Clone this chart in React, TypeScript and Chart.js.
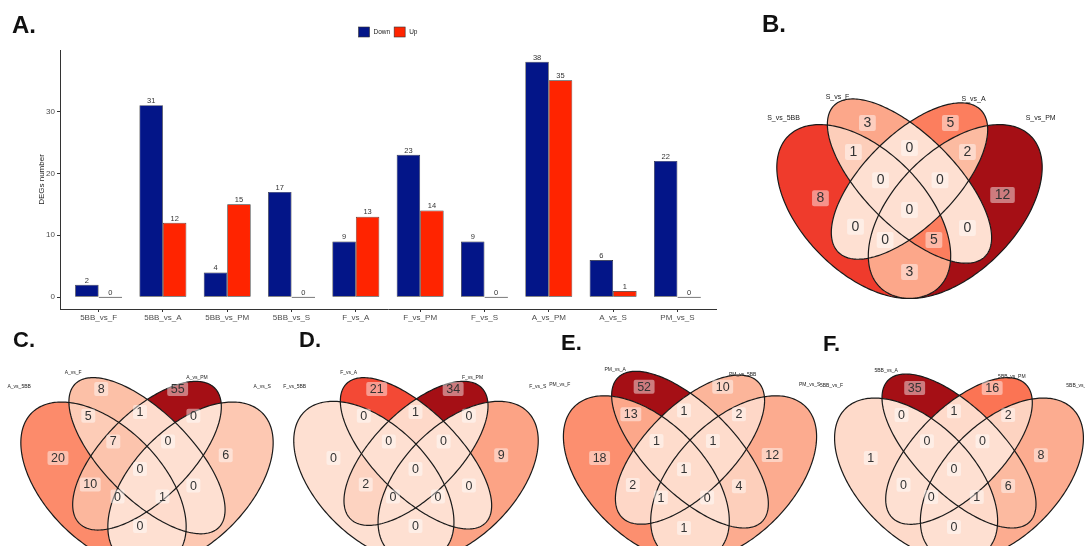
import React, { useEffect, useRef } from "react";
import { Chart, registerables } from "chart.js";

Chart.register(...registerables);

const FONT = "'Liberation Sans', Arial, Helvetica, sans-serif";
Chart.defaults.font.family = FONT;

// ---------- Panel A: number of DEGs per comparison ----------
const comparisons = [
  "5BB_vs_F", "5BB_vs_A", "5BB_vs_PM", "5BB_vs_S", "F_vs_A",
  "F_vs_PM", "F_vs_S", "A_vs_PM", "A_vs_S", "PM_vs_S",
];
const downCounts = [2, 31, 4, 17, 9, 23, 9, 38, 6, 22];
const upCounts = [0, 12, 15, 0, 13, 14, 0, 35, 1, 0];
const seriesNames = ["Down", "Up"];
const yTickValues = [0, 10, 20, 30];
const yTitle = "DEGs number";

// ---------- Panels B-F: four-set Venn diagrams ----------
// Region counts follow REGION_MASKS order (bit0 = first set ... bit3 = fourth set).
const setsB = ["S_vs_5BB", "S_vs_F", "S_vs_A", "S_vs_PM"];
const regionsB = [8, 3, 5, 12, 1, 0, 2, 0, 0, 0, 0, 0, 0, 5, 3];

const setsC = ["A_vs_5BB", "A_vs_F", "A_vs_PM", "A_vs_S"];
const regionsC = [20, 8, 55, 6, 5, 1, 0, 7, 0, 0, 10, 0, 0, 1, 0];

const setsD = ["F_vs_5BB", "F_vs_A", "F_vs_PM", "F_vs_S"];
const regionsD = [0, 21, 34, 9, 0, 1, 0, 0, 0, 0, 2, 0, 0, 0, 0];

const setsE = ["PM_vs_F", "PM_vs_A", "PM_vs_5BB", "PM_vs_S"];
const regionsE = [18, 52, 10, 12, 13, 1, 2, 1, 1, 1, 2, 4, 1, 0, 1];

const setsF = ["5BB_vs_F", "5BB_vs_A", "5BB_vs_PM", "5BB_vs_S"];
const regionsF = [1, 35, 16, 8, 0, 1, 2, 0, 0, 0, 0, 6, 0, 1, 0];

// Venn geometry in unit coordinates: [x0, y0, semi-major, semi-minor, angle deg]
const ELLIPSES = [
  [0.35, 0.47, 0.35, 0.2, 135],
  [0.5, 0.57, 0.35, 0.15, 135],
  [0.5, 0.57, 0.33, 0.15, 45],
  [0.65, 0.47, 0.35, 0.2, 45],
];
const REGION_MASKS = [
  0b0001, 0b0010, 0b0100, 0b1000,
  0b0011, 0b0110, 0b1100,
  0b0111, 0b1110, 0b1111,
  0b0101, 0b1010, 0b1101, 0b1011, 0b1001,
];
const REGION_ANCHORS = [
  [0.208, 0.514], [0.362, 0.76], [0.634, 0.76], [0.805, 0.524],
  [0.316, 0.665], [0.5, 0.678], [0.69, 0.665],
  [0.405, 0.573], [0.6, 0.573], [0.5, 0.475],
  [0.323, 0.42], [0.69, 0.416], [0.42, 0.377], [0.58, 0.377], [0.5, 0.272],
];
const SET_ANCHORS_TOP = [[0.087, 0.777], [0.264, 0.846], [0.71, 0.839], [0.93, 0.777]];
const SET_ANCHORS_BOTTOM = [[0.07, 0.769], [0.262, 0.819], [0.703, 0.801], [0.935, 0.769]];

const NAVY = "#031588";
const RED = "#FF2400";
const REDS = ["#FEE0D2", "#FCBBA1", "#FC9272", "#FB6A4A", "#EF3B2C", "#CB181D", "#A50F15"];

function hexToRgb(h: string) {
  const n = parseInt(h.slice(1), 16);
  return [(n >> 16) & 255, (n >> 8) & 255, n & 255];
}
function redScale(t: number) {
  const c = Math.max(0, Math.min(1, t));
  const p = c * (REDS.length - 1);
  const i = Math.min(Math.floor(p), REDS.length - 2);
  const f = p - i;
  const a = hexToRgb(REDS[i]);
  const b = hexToRgb(REDS[i + 1]);
  const m = a.map((v, k) => Math.round(v + (b[k] - v) * f));
  return `rgb(${m[0]},${m[1]},${m[2]})`;
}

// ---------- bar chart plugins ----------
const barValueLabels = {
  id: "barValueLabels",
  afterDatasetsDraw(chart: any) {
    const { ctx } = chart;
    ctx.save();
    ctx.font = `7.5px ${FONT}`;
    ctx.fillStyle = "#333333";
    ctx.textAlign = "center";
    ctx.textBaseline = "bottom";
    chart.data.datasets.forEach((ds: any, di: number) => {
      const meta = chart.getDatasetMeta(di);
      meta.data.forEach((el: any, i: number) => {
        const v = ds.data[i].y;
        const top = Math.min(el.y, el.base);
        ctx.fillText(String(v), el.x, top - 0.5);
      });
    });
    ctx.restore();
  },
};

const topLegend = {
  id: "topLegend",
  afterDraw(chart: any) {
    const { ctx, chartArea } = chart;
    const colors = [NAVY, RED];
    ctx.save();
    ctx.font = `6.5px ${FONT}`;
    const box = 11;
    const gap = 4;
    const widths = seriesNames.map((s) => ctx.measureText(s).width);
    const total = widths.reduce((a, w) => a + box + gap + w, 0) + gap;
    let x = (chartArea.left + chartArea.right) / 2 - total / 2;
    const cy = 32;
    seriesNames.forEach((name, i) => {
      ctx.fillStyle = colors[i];
      ctx.fillRect(x, cy - 5, box, 10);
      ctx.strokeStyle = "#333333";
      ctx.lineWidth = 0.6;
      ctx.strokeRect(x, cy - 5, box, 10);
      ctx.fillStyle = "#222222";
      ctx.textBaseline = "middle";
      ctx.textAlign = "left";
      ctx.fillText(name, x + box + gap, cy);
      x += box + gap + widths[i] + gap;
    });
    ctx.restore();
  },
};

function BarPanel() {
  const ref = useRef<HTMLCanvasElement>(null);
  useEffect(() => {
    const maxVal = Math.max(...downCounts, ...upCounts);
    const zeroAware = (color: string) => (c: any) =>
      c.parsed && c.parsed.y === 0 ? "#333333" : color;
    const chart = new Chart(ref.current as HTMLCanvasElement, {
      type: "bar",
      data: {
        datasets: [
          {
            label: seriesNames[0],
            data: downCounts.map((v, i) => ({ x: i + 1, y: v })),
            backgroundColor: zeroAware(NAVY),
            borderColor: "#2a2a2a",
            borderWidth: 0.7,
            borderSkipped: false,
            minBarLength: 1,
            categoryPercentage: 0.73,
            barPercentage: 1,
          },
          {
            label: seriesNames[1],
            data: upCounts.map((v, i) => ({ x: i + 1, y: v })),
            backgroundColor: zeroAware(RED),
            borderColor: "#2a2a2a",
            borderWidth: 0.7,
            borderSkipped: false,
            minBarLength: 1,
            categoryPercentage: 0.73,
            barPercentage: 1,
          },
        ],
      } as any,
      options: {
        responsive: false,
        animation: false,
        events: [],
        layout: { padding: { top: 50, right: 14, left: 0, bottom: 0 } },
        plugins: { legend: { display: false }, tooltip: { enabled: false } },
        scales: {
          x: {
            type: "linear",
            offset: false,
            min: 0.4,
            max: comparisons.length + 0.6,
            afterBuildTicks: (s: any) => {
              s.ticks = comparisons.map((_, i) => ({ value: i + 1 }));
            },
            afterFit: (s: any) => {
              s.height = 21;
            },
            ticks: {
              autoSkip: false,
              maxRotation: 0,
              padding: 1,
              color: "#4d4d4d",
              font: { size: 8 },
              callback: (v: any) => comparisons[Math.round(v) - 1] ?? "",
            },
            grid: {
              display: true,
              offset: false,
              drawOnChartArea: false,
              drawTicks: true,
              tickLength: 3,
              color: "#333333",
              tickColor: "#333333",
            },
            border: { display: true, color: "#333333", width: 1 },
          },
          y: {
            type: "linear",
            min: -maxVal * 0.05,
            max: maxVal * 1.05,
            afterBuildTicks: (s: any) => {
              s.ticks = yTickValues.map((v) => ({ value: v }));
            },
            afterFit: (s: any) => {
              s.width = 60;
            },
            ticks: { padding: 2, color: "#4d4d4d", font: { size: 8 } },
            grid: {
              display: true,
              drawOnChartArea: false,
              drawTicks: true,
              tickLength: 3,
              color: "#333333",
              tickColor: "#333333",
            },
            border: { display: true, color: "#333333", width: 1 },
            title: {
              display: true,
              text: yTitle,
              color: "#222222",
              font: { size: 8 },
              padding: { top: 37, bottom: 0 },
            },
          },
        },
      } as any,
      plugins: [barValueLabels, topLegend],
    });
    return () => chart.destroy();
  }, []);
  return (
    <canvas
      ref={ref}
      width={730}
      height={330}
      style={{ position: "absolute", left: 0, top: 0, width: 730, height: 330 }}
    />
  );
}

// shape: pixel frame of the ellipses (centre of unit square + px per unit);
// text: pixel frame used for the region counts and set names.
type Frame = { cx: number; cy: number; s: number };
type VennProps = {
  sets: string[];
  counts: number[];
  left: number;
  top: number;
  width: number;
  height: number;
  shape: Frame;
  text: Frame;
  labelFont: number;
  boxPadX: number;
  boxH: number;
  setFont: number;
  setAnchors: number[][];
};

function ellipsePath(e: number[], xs: any, ys: any) {
  const [x0, y0, a, b, deg] = e;
  const th = (deg * Math.PI) / 180;
  const p = new Path2D();
  const n = 240;
  for (let k = 0; k <= n; k++) {
    const t = (k / n) * Math.PI * 2;
    const x = x0 + a * Math.cos(t) * Math.cos(th) - b * Math.sin(t) * Math.sin(th);
    const y = y0 + a * Math.cos(t) * Math.sin(th) + b * Math.sin(t) * Math.cos(th);
    const px = xs.getPixelForValue(x);
    const py = ys.getPixelForValue(y);
    if (k === 0) p.moveTo(px, py);
    else p.lineTo(px, py);
  }
  p.closePath();
  return p;
}

// converts an anchor given in the text frame to the shape frame's unit coordinates
function toShapeUnits(v: VennProps, ax: number, ay: number) {
  const px = v.text.cx + (ax - 0.5) * v.text.s;
  const py = v.text.cy - (ay - 0.5) * v.text.s;
  return {
    x: 0.5 + (px - v.shape.cx) / v.shape.s,
    y: 0.5 - (py - v.shape.cy) / v.shape.s,
  };
}

function makeVennPlugin(v: VennProps) {
  return {
    id: "vennRegions",
    beforeDatasetsDraw(chart: any) {
      const { ctx, chartArea: area, scales } = chart;
      const paths = ELLIPSES.map((e) => ellipsePath(e, scales.x, scales.y));
      const maxCount = Math.max(...v.counts, 1);
      const w = area.right - area.left;
      const h = area.bottom - area.top;
      REGION_MASKS.forEach((mask, r) => {
        ctx.save();
        paths.forEach((p, i) => {
          if (mask & (1 << i)) {
            ctx.clip(p);
          } else {
            const outside = new Path2D();
            outside.rect(area.left - 5, area.top - 5, w + 10, h + 10);
            outside.addPath(p);
            ctx.clip(outside, "evenodd");
          }
        });
        ctx.fillStyle = redScale(v.counts[r] / maxCount);
        ctx.fillRect(area.left - 5, area.top - 5, w + 10, h + 10);
        ctx.restore();
      });
      ctx.save();
      ctx.strokeStyle = "#1a1a1a";
      ctx.lineWidth = 1.2;
      paths.forEach((p) => ctx.stroke(p));
      ctx.restore();
    },
    afterDatasetsDraw(chart: any) {
      const { ctx, scales } = chart;
      const meta = chart.getDatasetMeta(0);
      ctx.save();
      ctx.font = `${v.labelFont}px ${FONT}`;
      ctx.textAlign = "center";
      ctx.textBaseline = "middle";
      meta.data.forEach((el: any, i: number) => {
        const txt = String(v.counts[i]);
        const tw = ctx.measureText(txt).width;
        const bw = tw + v.boxPadX * 2;
        ctx.fillStyle = "rgba(255,255,255,0.45)";
        ctx.beginPath();
        ctx.roundRect(el.x - bw / 2, el.y - v.boxH / 2, bw, v.boxH, 2);
        ctx.fill();
        ctx.fillStyle = "#333333";
        ctx.fillText(txt, el.x, el.y + 0.5);
      });
      ctx.font = `${v.setFont}px ${FONT}`;
      ctx.fillStyle = "#222222";
      v.sets.forEach((name, i) => {
        const p = toShapeUnits(v, v.setAnchors[i][0], v.setAnchors[i][1]);
        ctx.fillText(name, scales.x.getPixelForValue(p.x), scales.y.getPixelForValue(p.y));
      });
      ctx.restore();
    },
  };
}

function VennPanel(v: VennProps) {
  const ref = useRef<HTMLCanvasElement>(null);
  useEffect(() => {
    const { cx, cy, s } = v.shape;
    const xmin = 0.5 - (cx - v.left) / s;
    const xmax = 0.5 + (v.left + v.width - cx) / s;
    const ymax = 0.5 + (cy - v.top) / s;
    const ymin = 0.5 - (v.top + v.height - cy) / s;
    const chart = new Chart(ref.current as HTMLCanvasElement, {
      type: "scatter",
      data: {
        datasets: [
          {
            data: REGION_ANCHORS.map(([x, y]) => toShapeUnits(v, x, y)),
            pointRadius: 0,
            pointHoverRadius: 0,
          },
        ],
      },
      options: {
        responsive: false,
        animation: false,
        events: [],
        layout: { padding: 0 },
        plugins: { legend: { display: false }, tooltip: { enabled: false } },
        scales: {
          x: { type: "linear", display: false, min: xmin, max: xmax },
          y: { type: "linear", display: false, min: ymin, max: ymax },
        },
      } as any,
      plugins: [makeVennPlugin(v)],
    });
    return () => chart.destroy();
  }, []);
  return (
    <canvas
      ref={ref}
      width={v.width}
      height={v.height}
      style={{ position: "absolute", left: v.left, top: v.top, width: v.width, height: v.height }}
    />
  );
}

const letterStyle = (left: number, top: number, size: number): React.CSSProperties => ({
  position: "absolute",
  left,
  top,
  fontFamily: FONT,
  fontWeight: 700,
  fontSize: size,
  lineHeight: 1,
  color: "#111111",
  margin: 0,
});

const frameB: Frame = { cx: 909.5, cy: 202.4, s: 305 };

const bottomPanels = [
  { sets: setsC, counts: regionsC, shape: { cx: 147, cy: 476, s: 290 }, text: { cx: 140, cy: 462, s: 281 } },
  { sets: setsD, counts: regionsD, shape: { cx: 415.5, cy: 473, s: 281 }, text: { cx: 415, cy: 462, s: 281 } },
  { sets: setsE, counts: regionsE, shape: { cx: 690, cy: 470, s: 291 }, text: { cx: 684, cy: 462, s: 289 } },
  { sets: setsF, counts: regionsF, shape: { cx: 959, cy: 471, s: 286 }, text: { cx: 954, cy: 462, s: 285 } },
];

export default function App() {
  return (
    <div
      style={{
        position: "fixed",
        left: 0,
        top: 0,
        width: 1085,
        height: 546,
        overflow: "hidden",
        background: "#ffffff",
      }}
    >
      <BarPanel />
      <VennPanel
        sets={setsB}
        counts={regionsB}
        left={740}
        top={0}
        width={345}
        height={320}
        shape={frameB}
        text={frameB}
        labelFont={14}
        boxPadX={4.5}
        boxH={16}
        setFont={7}
        setAnchors={SET_ANCHORS_TOP}
      />
      {bottomPanels.map((p, k) => (
        <VennPanel
          key={k}
          sets={p.sets}
          counts={p.counts}
          left={p.shape.cx - 150}
          top={320}
          width={300}
          height={226}
          shape={p.shape}
          text={p.text}
          labelFont={12.5}
          boxPadX={3.5}
          boxH={14}
          setFont={5}
          setAnchors={SET_ANCHORS_BOTTOM}
        />
      ))}
      <div style={letterStyle(12, 12.7, 24)}>A.</div>
      <div style={letterStyle(762, 11.7, 24)}>B.</div>
      <div style={letterStyle(13, 329, 22)}>C.</div>
      <div style={letterStyle(299, 329, 22)}>D.</div>
      <div style={letterStyle(561, 332, 22)}>E.</div>
      <div style={letterStyle(823, 333, 22)}>F.</div>
    </div>
  );
}
